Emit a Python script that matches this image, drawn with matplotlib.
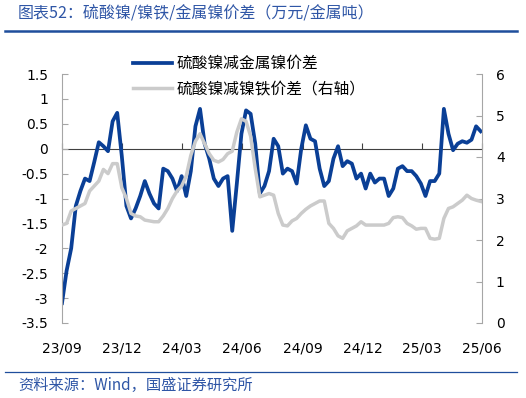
import matplotlib
matplotlib.use("Agg")
import matplotlib.pyplot as plt
from matplotlib.lines import Line2D
from matplotlib.font_manager import FontProperties
import pandas as pd

CJK = ["Noto Sans CJK SC", "DejaVu Sans"]

# weekly readings, 2023-09-01 onward
sulfate_minus_metal = [
    -3.1, -2.45, -2.0, -1.15, -0.85, -0.6, -0.65, -0.27, 0.13, 0.05,
    -0.05, 0.55, 0.72, -0.15, -1.15, -1.4, -1.2, -0.95, -0.65, -0.9,
    -1.1, -1.2, -0.4, -0.45, -0.6, -0.85, -0.55, -0.95, -0.45, 0.45,
    0.8, 0.1, -0.2, -0.6, -0.75, -0.6, -0.55, -1.65, -0.7, 0.3,
    0.77, 0.7, 0.1, -0.9, -0.75, -0.45, 0.2, 0.05, -0.5, -0.4,
    -0.45, -0.7, 0.0, 0.47, 0.2, 0.15, -0.4, -0.75, -0.65, -0.2,
    0.05, -0.35, -0.25, -0.3, -0.6, -0.5, -0.8, -0.5, -0.68, -0.6,
    -0.6, -0.95, -0.8, -0.4, -0.35, -0.45, -0.45, -0.55, -0.7, -0.95,
    -0.65, -0.65, -0.5, 0.8, 0.3, -0.03, 0.1, 0.15, 0.12, 0.18,
    0.45, 0.35,
]
sulfate_minus_nife = [
    2.36, 2.4, 2.7, 2.76, 2.82, 2.88, 3.18, 3.3, 3.42, 3.7,
    3.6, 3.84, 3.84, 3.26, 3.0, 2.64, 2.58, 2.56, 2.48, 2.46,
    2.44, 2.44, 2.58, 2.76, 3.0, 3.18, 3.3, 3.54, 4.04, 4.38,
    4.56, 4.32, 4.08, 3.92, 3.88, 3.94, 4.08, 4.14, 4.6, 4.92,
    4.86, 4.5, 3.72, 3.04, 3.08, 3.12, 3.08, 2.64, 2.36, 2.34,
    2.46, 2.52, 2.64, 2.74, 2.82, 2.88, 2.94, 2.94, 2.4, 2.28,
    2.1, 2.04, 2.22, 2.28, 2.34, 2.44, 2.36, 2.36, 2.36, 2.36,
    2.36, 2.4, 2.54, 2.56, 2.54, 2.4, 2.34, 2.26, 2.28, 2.28,
    2.04, 2.02, 2.04, 2.52, 2.76, 2.8, 2.88, 2.96, 3.08, 3.0,
    2.96, 2.93,
]
x_ticks = ["2023-09-01", "2023-12-01", "2024-03-01", "2024-06-01",
           "2024-09-01", "2024-12-01", "2025-03-01", "2025-06-01"]
x_labels = ["23/09", "23/12", "24/03", "24/06", "24/09", "24/12", "25/03", "25/06"]
left_ticks = [1.5, 1, 0.5, 0, -0.5, -1, -1.5, -2, -2.5, -3, -3.5]
right_ticks = [0, 1, 2, 3, 4, 5, 6]

dates = pd.date_range("2023-09-01", periods=len(sulfate_minus_metal), freq="7D")
tick_dates = pd.to_datetime(x_ticks)

fig = plt.figure(figsize=(5.26, 3.98), dpi=100)
ax = fig.add_axes([62 / 526, 75 / 398, 420 / 526, 249 / 398])

ax.axhline(0, color="#404040", lw=0.8, zorder=1)
l1, = ax.plot(dates, sulfate_minus_metal, color="#0a3f96", lw=2.7, zorder=2,
              label="硫酸镍减金属镍价差")
ax.set_ylim(-3.5, 1.5)
ax.set_xlim(tick_dates[0], tick_dates[-1])
ax.set_yticks(left_ticks)
ax.set_yticklabels([f"{v:g}" for v in left_ticks])
ax.set_xticks(tick_dates)
ax.set_xticklabels(x_labels)
ax.tick_params(axis="x", length=0, pad=13, labelsize=10)
ax.tick_params(axis="y", direction="in", length=4, color="#a6a6a6", pad=10, labelsize=10)
for s in ("top", "right", "bottom"):
    ax.spines[s].set_visible(False)
ax.spines["left"].set_color("#a6a6a6")

# tick marks sitting on the zero line
sec = ax.secondary_xaxis(0, transform=ax.transData)
sec.set_xticks(tick_dates)
sec.tick_params(direction="in", length=4, color="#404040", labelbottom=False)
sec.spines["bottom"].set_visible(False)

ax2 = ax.twinx()
l2, = ax2.plot(dates, sulfate_minus_nife, color="#cbcbcb", lw=2.5,
               label="硫酸镍减镍铁价差（右轴）")
ax2.set_ylim(0, 6)
ax2.set_yticks(right_ticks)
ax2.tick_params(axis="y", direction="in", length=4, color="#a6a6a6", pad=10, labelsize=10)
for s in ("top", "left", "bottom"):
    ax2.spines[s].set_visible(False)
ax2.spines["right"].set_color("#a6a6a6")

fig.legend([l1, l2], [l1.get_label(), l2.get_label()], loc="upper left",
           bbox_to_anchor=(133 / 526, 1 - 55 / 398), frameon=False,
           prop=FontProperties(family=CJK, size=11.3), handlelength=2.5,
           handletextpad=0.3, labelspacing=0.55, borderpad=0, borderaxespad=0)

fig.text(18 / 526, 1 - 14 / 398, "图表52：硫酸镍/镍铁/金属镍价差（万元/金属吨）",
         family=CJK, size=11.5, color="#2f56a6", va="center")
fig.add_artist(Line2D([5 / 526, 517 / 526], [1 - 31 / 398] * 2, color="#1f4e9c", lw=1.8))
fig.add_artist(Line2D([5 / 526, 517 / 526], [1 - 372 / 398] * 2, color="#1f4e9c", lw=0.9))
fig.text(18 / 526, 1 - 385 / 398, "资料来源：Wind，国盛证券研究所",
         family=CJK, size=11, color="#2f56a6", va="center")

fig.savefig("out.png", dpi=100)
